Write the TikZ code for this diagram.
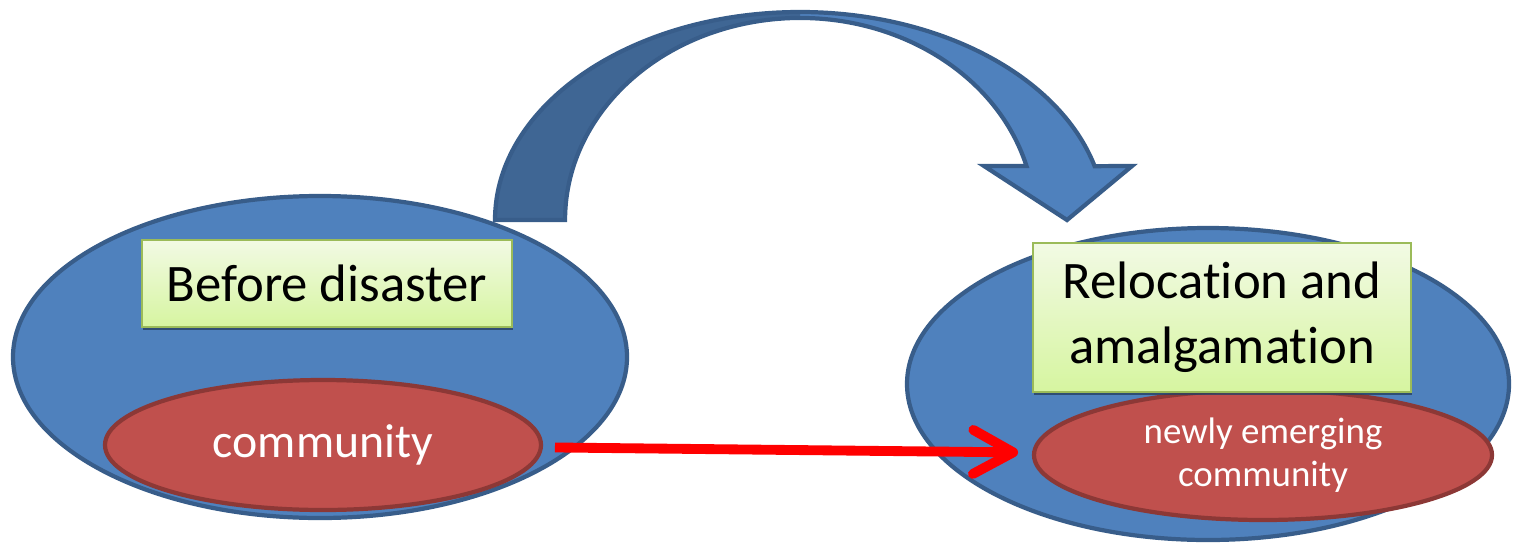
\documentclass[tikz,border=0pt]{standalone}
\usepackage{fontspec}
\setmainfont[Ligatures=NoCommon,RawFeature={-liga;-clig;-dlig}]{Carlito}
\usepackage{tikz}
\usetikzlibrary{arrows.meta,shapes,shapes.geometric,shadows}

\definecolor{bluefill}{HTML}{4F81BD}
\definecolor{blueedge}{HTML}{385D8A}
\definecolor{bluedark}{HTML}{3F6694}
\definecolor{redfill}{HTML}{C0504D}
\definecolor{rededge}{HTML}{8C3836}
\definecolor{greenedge}{HTML}{9BBB59}
\definecolor{greentop}{HTML}{F2FAE4}
\definecolor{greenbot}{HTML}{D6F5A0}

\begin{document}
\begin{tikzpicture}[
    place/.style={ellipse, draw=blueedge, fill=bluefill, line width=1.2pt, inner sep=0pt},
    group/.style={ellipse, draw=rededge, fill=redfill, line width=1.2pt, inner sep=0pt, text=white, align=center},
    stagebox/.style={rectangle, draw=greenedge, line width=0.6pt, top color=greentop, bottom color=greenbot,
        inner sep=0pt, align=center, font=\fontsize{15}{18.6}\selectfont,
        drop shadow={shadow xshift=0.01cm, shadow yshift=-0.03cm, fill=blueedge!70!black, opacity=0.8}},
    move/.style={draw=red, line width=2.8pt, -{Straight Barb[round, length=4mm, width=4.4mm]}}
  ]
  \useasboundingbox (0,0) rectangle (15.25,5.42);

  % the two settlements
  \node[place, minimum width=6.14cm, minimum height=3.22cm] (before) at (3.20,1.85) {};
  \node[place, minimum width=6.02cm, minimum height=3.12cm] (after) at (12.08,1.58) {};

  \node[group, minimum width=4.36cm, minimum height=1.30cm, font=\fontsize{13.6}{16}\selectfont] (comm_0) at (3.23,0.97) {community};
  \node[group, minimum width=4.58cm, minimum height=1.30cm, font=\fontsize{10.5}{12.2}\selectfont] (comm_1) at (12.63,0.87) {newly emerging\\community};

  \node[stagebox, minimum width=3.70cm, minimum height=0.87cm] (box_0) at (3.27,2.585) {Before disaster};
  \node[stagebox, minimum width=3.78cm, minimum height=1.49cm] (box_1) at (12.22,2.245) {Relocat\kern0pt ion and\\amalgamat\kern0pt ion};

  % big curved arrow
  \def\bendpath{(4.95,3.22) arc[start angle=180, end angle=15, x radius=3.05, y radius=2.08]
    -- (11.32,3.76) -- (10.67,3.22) -- (9.84,3.76) -- (10.265,3.76)
    arc[start angle=15.5, end angle=180, x radius=2.35, y radius=2.02] -- cycle}
  \fill[bluefill] \bendpath;
  \begin{scope}
    \clip (0,0) rectangle (8.0,5.42);
    \fill[bluedark] \bendpath;
  \end{scope}
  \draw[blueedge, line width=1.2pt, line join=miter] \bendpath;

  \path[move, shorten <=0.12cm, shorten >=0.14cm] (comm_0) edge (comm_1);
\end{tikzpicture}
\end{document}
